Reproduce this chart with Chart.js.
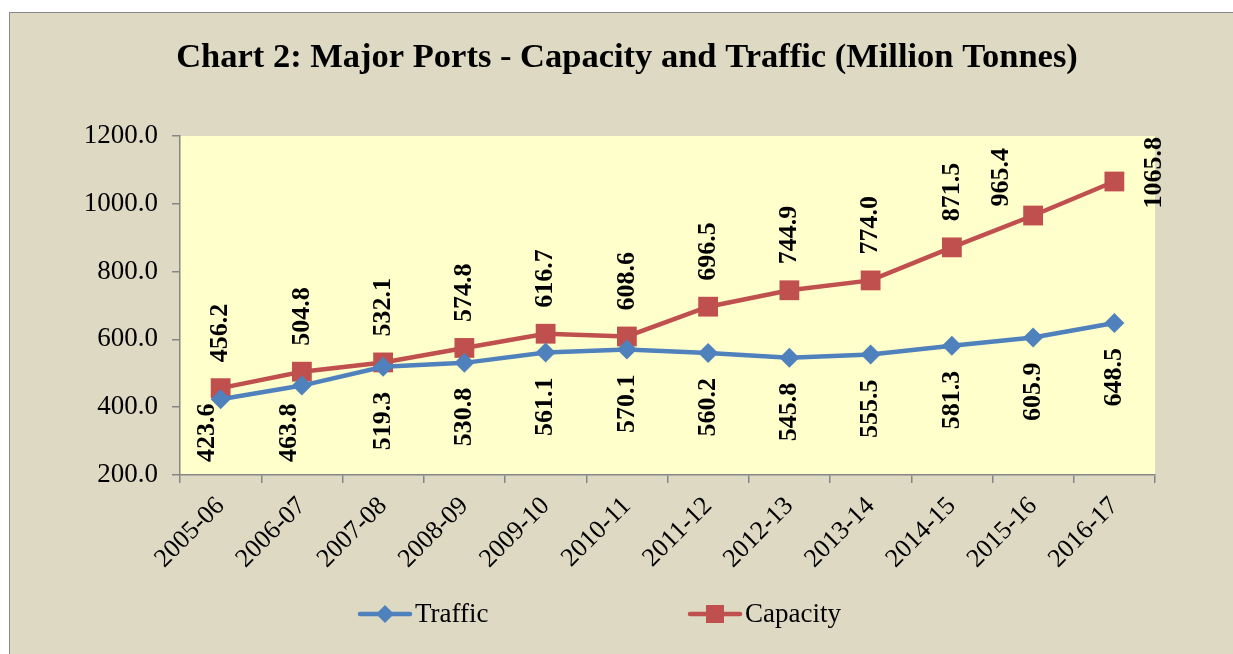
<!DOCTYPE html>
<html>
<head>
<meta charset="utf-8">
<title>Major Ports - Capacity and Traffic</title>
<script src="https://cdn.jsdelivr.net/npm/chart.js@4"></script>
<style>
  body { margin: 0; background: #fff; overflow: hidden; }
  #frame { position: absolute; left: 9px; top: 12px; width: 1240px; height: 660px;
           border: 1px solid #888; background: #DDD9C3; }
  #wrap { position: absolute; left: 0; top: 0; width: 1233px; height: 654px; }
</style>
</head>
<body>
<div id="frame"></div>
<div id="wrap"><canvas id="portsChart" width="1233" height="654"></canvas></div>
<script>
// chart values
const years = ['2005-06', '2006-07', '2007-08', '2008-09', '2009-10', '2010-11',
               '2011-12', '2012-13', '2013-14', '2014-15', '2015-16', '2016-17'];
const traffic = [423.6, 463.8, 519.3, 530.8, 561.1, 570.1, 560.2, 545.8, 555.5, 581.3, 605.9, 648.5];
const capacity = [456.2, 504.8, 532.1, 574.8, 616.7, 608.6, 696.5, 744.9, 774.0, 871.5, 965.4, 1065.8];
const yTicks = [200, 400, 600, 800, 1000, 1200];

const titleText = 'Chart 2: Major Ports - Capacity and Traffic (Million Tonnes)';
const BLUE = '#4F81BD';
const RED = '#C0504D';
const AXIS = '#868686';
const SERIF = '"Liberation Serif", "Times New Roman", serif';

// fill plot area + draw title
const backdrop = {
  id: 'backdrop',
  beforeDraw(chart) {
    const { ctx, chartArea: a } = chart;
    ctx.save();
    ctx.fillStyle = '#FFFFCC';
    ctx.fillRect(a.left, a.top, a.right - a.left, a.bottom - a.top);
    ctx.fillStyle = '#000';
    ctx.font = 'bold 34.5px ' + SERIF;
    ctx.textAlign = 'center';
    ctx.textBaseline = 'alphabetic';
    ctx.fillText(titleText, 627, 67);
    ctx.restore();
  }
};

// vertical value labels, like the excel ones
const pointLabels = {
  id: 'pointLabels',
  afterDatasetsDraw(chart) {
    const { ctx, chartArea: a } = chart;
    ctx.save();
    ctx.font = 'bold 26px ' + SERIF;
    ctx.fillStyle = '#000';
    ctx.textAlign = 'center';
    ctx.textBaseline = 'middle';
    chart.data.datasets.forEach((ds, di) => {
      const meta = chart.getDatasetMeta(di);
      meta.data.forEach((pt, i) => {
        const text = ds.data[i].toFixed(1);
        const w = ctx.measureText(text).width;
        let x = pt.x, cy;
        if (di === 0) {
          cy = pt.y + 25 + w / 2;
          if (cy + w / 2 > a.bottom - 13) { cy = a.bottom - 13 - w / 2; x -= 13; }
        } else {
          cy = pt.y - 26 - w / 2;
          if (cy - w / 2 < a.top) {
            const last = i === meta.data.length - 1;
            cy = a.top + w / 2 + (last ? 1 : 12);
            x += last ? 40 : -32;
          }
        }
        ctx.save();
        ctx.translate(x, cy);
        ctx.rotate(-Math.PI / 2);
        ctx.fillText(text, 0, 0);
        ctx.restore();
      });
    });
    ctx.restore();
  }
};

// legend with line + marker
const lineLegend = {
  id: 'lineLegend',
  afterDraw(chart) {
    const ctx = chart.ctx;
    const y = 614;
    const items = [
      { x: 358, color: BLUE, shape: 'diamond', label: 'Traffic' },
      { x: 688, color: RED, shape: 'square', label: 'Capacity' }
    ];
    ctx.save();
    items.forEach(it => {
      ctx.strokeStyle = it.color;
      ctx.fillStyle = it.color;
      ctx.lineWidth = 4.5;
      ctx.lineCap = 'round';
      ctx.beginPath();
      ctx.moveTo(it.x + 2, y);
      ctx.lineTo(it.x + 52, y);
      ctx.stroke();
      const cx = it.x + 27;
      ctx.beginPath();
      if (it.shape === 'diamond') {
        ctx.moveTo(cx - 9, y); ctx.lineTo(cx, y - 9); ctx.lineTo(cx + 9, y); ctx.lineTo(cx, y + 9);
        ctx.closePath();
      } else {
        ctx.rect(cx - 9, y - 9, 18, 18);
      }
      ctx.fill();
      ctx.fillStyle = '#000';
      ctx.font = '27px ' + SERIF;
      ctx.textAlign = 'left';
      ctx.textBaseline = 'middle';
      ctx.fillText(it.label, it.x + 57, y + 1);
    });
    ctx.restore();
  }
};

const ctx = document.getElementById('portsChart').getContext('2d');
new Chart(ctx, {
  type: 'line',
  data: {
    labels: years,
    datasets: [
      {
        label: 'Traffic',
        data: traffic,
        borderColor: BLUE,
        backgroundColor: BLUE,
        borderWidth: 4.5,
        pointStyle: 'rectRot',
        pointRadius: 10,
        pointBorderWidth: 0,
        tension: 0,
        clip: false
      },
      {
        label: 'Capacity',
        data: capacity,
        borderColor: RED,
        backgroundColor: RED,
        borderWidth: 4.5,
        pointStyle: 'rect',
        pointRadius: 14,
        pointBorderWidth: 0,
        tension: 0,
        clip: false
      }
    ]
  },
  options: {
    responsive: false,
    animation: false,
    layout: { padding: { left: 0, top: 136, right: 78, bottom: 0 } },
    plugins: {
      legend: { display: false },
      title: { display: false },
      tooltip: { enabled: false }
    },
    scales: {
      x: {
        offset: true,
        afterFit: s => { s.height = 179; },
        grid: { offset: true, drawOnChartArea: false, drawTicks: true, tickLength: 8, color: AXIS, lineWidth: 1.5 },
        border: { color: AXIS, width: 1.5 },
        ticks: {
          color: '#000',
          font: { family: SERIF, size: 26 },
          minRotation: 45,
          maxRotation: 45,
          padding: 8
        }
      },
      y: {
        min: 200,
        max: 1200,
        afterFit: s => { s.width = 180; },
        afterBuildTicks: s => { s.ticks = yTicks.map(v => ({ value: v })); },
        grid: { drawOnChartArea: false, drawTicks: true, tickLength: 8, color: AXIS, lineWidth: 1.5 },
        border: { color: AXIS, width: 1.5 },
        ticks: {
          color: '#000',
          font: { family: SERIF, size: 27 },
          padding: 14,
          callback: v => Number(v).toFixed(1)
        }
      }
    }
  },
  plugins: [backdrop, pointLabels, lineLegend]
});
</script>
</body>
</html>
